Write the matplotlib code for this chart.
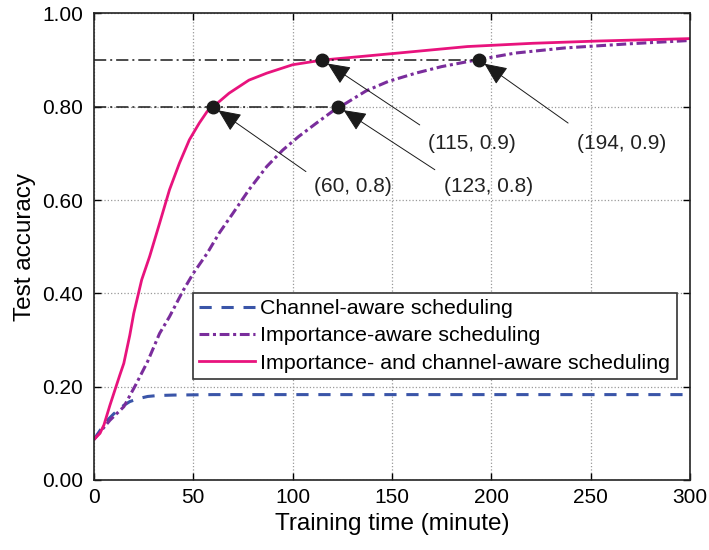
import matplotlib
matplotlib.use("Agg")
import matplotlib.pyplot as plt

plt.rcParams['font.family'] = ['Liberation Sans', 'DejaVu Sans']

# channel-aware scheduling
t_chan = [0, 6, 10, 15, 18, 22, 27, 32, 40, 60, 100, 150, 200, 250, 300]
acc_chan = [0.087, 0.125, 0.142, 0.160, 0.168, 0.174, 0.179, 0.181, 0.182, 0.183, 0.183, 0.183, 0.183, 0.183, 0.183]

# importance-aware scheduling
t_imp = [0, 8, 15, 21, 27, 33, 38, 45, 50, 57, 63, 70, 78, 87, 95, 103, 112, 120, 124,
         137, 148, 162, 175, 191, 212, 237, 270, 300]
acc_imp = [0.087, 0.128, 0.157, 0.204, 0.254, 0.314, 0.350, 0.407, 0.443, 0.486, 0.529,
           0.572, 0.622, 0.672, 0.707, 0.736, 0.765, 0.790, 0.800, 0.834, 0.854, 0.872,
           0.886, 0.899, 0.915, 0.926, 0.935, 0.942]

# importance- and channel-aware scheduling
t_both = [0, 3, 5, 8, 10, 13, 15, 18, 20, 24, 28, 33, 38, 43, 48, 53, 57, 60, 68, 78, 87,
          100, 115, 153, 188, 221, 255, 300]
acc_both = [0.087, 0.100, 0.118, 0.160, 0.186, 0.225, 0.250, 0.310, 0.357, 0.429, 0.479,
            0.550, 0.622, 0.679, 0.729, 0.765, 0.790, 0.800, 0.829, 0.857, 0.872, 0.890,
            0.900, 0.915, 0.929, 0.936, 0.941, 0.946]

# marked points and their label positions
mark_x = [60, 123, 115, 194]
mark_y = [0.8, 0.8, 0.9, 0.9]
mark_text = ["(60, 0.8)", "(123, 0.8)", "(115, 0.9)", "(194, 0.9)"]
tail_x = [106.7, 171.6, 164, 238.7]
tail_y = [0.661, 0.665, 0.761, 0.765]
text_x = [111, 176, 168, 243]
text_y = [0.628, 0.628, 0.722, 0.722]

fig = plt.figure(figsize=(7.09, 5.5), dpi=100)
ax = fig.add_axes([0.1326, 0.1273, 0.8404, 0.8483])

ax.plot(t_chan, acc_chan, '--', color='#3a55a8', lw=2.2, dashes=(4, 3.2),
        label='Channel-aware scheduling')
ax.plot(t_imp, acc_imp, '-.', color='#7a2d9c', lw=2.2, dashes=(3.2, 1.2, 1.0, 1.2),
        label='Importance-aware scheduling')
ax.plot(t_both, acc_both, '-', color='#e8137d', lw=2.0,
        label='Importance- and channel-aware scheduling')

# reference lines
ax.plot([0, 123], [0.8, 0.8], color='#1a1a1a', lw=1.1, dashes=(8, 2.6, 1.3, 2.6))
ax.plot([0, 194], [0.9, 0.9], color='#1a1a1a', lw=1.1, dashes=(8, 2.6, 1.3, 2.6))

ax.plot(mark_x, mark_y, 'o', color='#1a1a1a', ms=9, zorder=5)

for mx, my, lab, tx, ty, lx, ly in zip(mark_x, mark_y, mark_text, tail_x, tail_y, text_x, text_y):
    ax.annotate('', xy=(mx, my), xytext=(tx, ty),
                arrowprops=dict(arrowstyle='-|>,head_length=1.0,head_width=0.45',
                                mutation_scale=14, color='#1a1a1a', lw=0.7,
                                shrinkA=0, shrinkB=4.5),
                zorder=6)
    ax.text(lx, ly, lab, fontsize=15, ha='left', va='center', color='#222222')

ax.set_xlim(0, 300)
ax.set_ylim(0, 1.0)
ax.set_xticks([0, 50, 100, 150, 200, 250, 300])
ax.set_yticks([0, 0.2, 0.4, 0.6, 0.8, 1.0])
ax.set_yticklabels(['0.00', '0.20', '0.40', '0.60', '0.80', '1.00'])
ax.tick_params(direction='in', top=True, right=True, labelsize=15, length=5, width=1)
ax.tick_params(axis='x', pad=6)
ax.tick_params(axis='y', pad=8)
ax.grid(True, linestyle=':', color='#999999', lw=0.9)
for s in ax.spines.values():
    s.set_linewidth(1.2)
    s.set_color('#222222')

ax.set_xlabel('Training time (minute)', fontsize=17.5, labelpad=4)
ax.set_ylabel('Test accuracy', fontsize=17.5, labelpad=4)

leg = ax.legend(loc='lower left', bbox_to_anchor=(0.166, 0.2165), fontsize=15.4,
                frameon=True, fancybox=False, edgecolor='#333333', handlelength=2.6,
                handletextpad=0.25, borderpad=0.3, labelspacing=0.38, borderaxespad=0)
leg.get_frame().set_linewidth(1.2)
leg.get_frame().set_alpha(1)

fig.savefig('out.png', dpi=100)
